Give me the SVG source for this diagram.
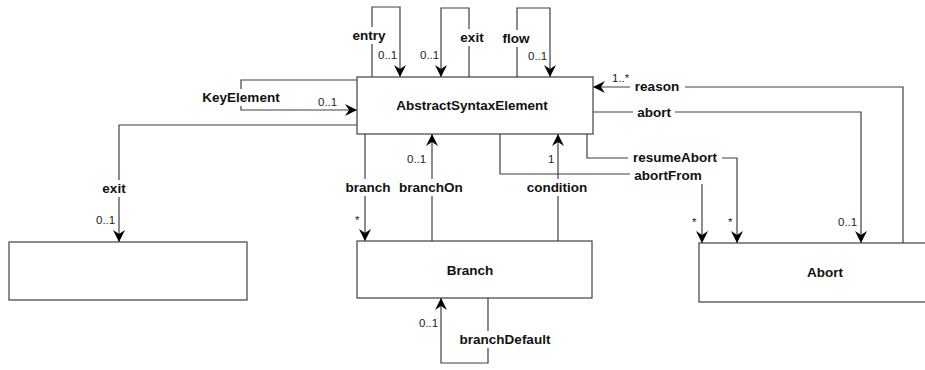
<svg xmlns="http://www.w3.org/2000/svg" width="925" height="370" viewBox="0 0 925 370">
  <defs>
    <marker id="arrow" viewBox="0 0 12 12" refX="12" refY="6" markerWidth="12" markerHeight="12" markerUnits="userSpaceOnUse" orient="auto">
      <path d="M0,0 L12,6 L0,12 L4,6 z" fill="#000"/>
    </marker>
    <style>
      .box { fill: #fff; stroke: #404040; stroke-width: 1.2; }
      .edge { fill: none; stroke: #404040; stroke-width: 1.2; }
      .end { marker-end: url(#arrow); }
      .bg { fill: #fff; stroke: none; }
      .name { font-family: "Liberation Sans", Arial, sans-serif; font-size: 13.5px; font-weight: bold; fill: #111; text-anchor: middle; }
      .role { font-family: "Liberation Sans", Arial, sans-serif; font-size: 13.5px; font-weight: bold; fill: #111; text-anchor: middle; }
      .mult { font-family: "Liberation Sans", Arial, sans-serif; font-size: 11.5px; fill: #222; }
    </style>
  </defs>
  <rect width="925" height="370" fill="#fff"/>

  <!-- associations -->
  <g id="connectors">
    <path class="edge end" d="M372,77 V7 H400 V77"/>
    <path class="edge end" d="M469,77 V8 H441 V77"/>
    <path class="edge end" d="M517,77 V8 H550 V77"/>
    <path class="edge end" d="M357,80 H241 V110 H357"/>
    <path class="edge end" d="M357,125 H119 V242"/>
    <path class="edge end" d="M365,134 V241"/>
    <path class="edge end" d="M432,241 V134"/>
    <path class="edge end" d="M558,241 V134"/>
    <path class="edge end" d="M488,298 V363 H441 V298"/>
    <path class="edge end" d="M500,134 V174 H702 V243"/>
    <path class="edge end" d="M587,134 V158 H737 V243"/>
    <path class="edge end" d="M593,112 H861 V243"/>
    <path class="edge end" d="M903,243 V87 H593"/>

    <!-- role names, set on a white ground over the lines -->
    <rect class="bg" x="350" y="27" width="38" height="17"/>
    <text class="role" x="369" y="40">entry</text>
    <rect class="bg" x="458" y="29" width="29" height="17"/>
    <text class="role" x="472" y="42">exit</text>
    <rect class="bg" x="499" y="30" width="34" height="17"/>
    <text class="role" x="516" y="43">flow</text>
    <rect class="bg" x="199" y="89" width="84" height="17"/>
    <text class="role" x="241" y="102">KeyElement</text>
    <rect class="bg" x="98" y="180" width="32" height="17"/>
    <text class="role" x="114" y="193">exit</text>
    <rect class="bg" x="343" y="179" width="51" height="17"/>
    <text class="role" x="368" y="192">branch</text>
    <rect class="bg" x="396" y="179" width="70" height="17"/>
    <text class="role" x="431" y="192">branchOn</text>
    <rect class="bg" x="524" y="179" width="66" height="17"/>
    <text class="role" x="557" y="192">condition</text>
    <rect class="bg" x="456" y="331" width="99" height="17"/>
    <text class="role" x="505" y="344">branchDefault</text>
    <rect class="bg" x="630" y="167" width="76" height="17"/>
    <text class="role" x="668" y="180">abortFrom</text>
    <rect class="bg" x="628" y="149" width="94" height="17"/>
    <text class="role" x="675" y="162">resumeAbort</text>
    <rect class="bg" x="633" y="104" width="42" height="17"/>
    <text class="role" x="654" y="117">abort</text>
    <rect class="bg" x="630" y="78" width="55" height="17"/>
    <text class="role" x="657" y="91">reason</text>

    <!-- multiplicities -->
    <text class="mult" x="378" y="59">0..1</text>
    <text class="mult" x="420" y="59">0..1</text>
    <text class="mult" x="528" y="60">0..1</text>
    <text class="mult" x="318" y="106">0..1</text>
    <text class="mult" x="96" y="224">0..1</text>
    <text class="mult" x="355" y="224">*</text>
    <text class="mult" x="407" y="163">0..1</text>
    <text class="mult" x="548" y="163">1</text>
    <text class="mult" x="419" y="327">0..1</text>
    <text class="mult" x="692" y="226">*</text>
    <text class="mult" x="728" y="226">*</text>
    <text class="mult" x="838" y="226">0..1</text>
    <text class="mult" x="612" y="82">1..*</text>
  </g>

  <!-- classes -->
  <g id="AbstractSyntaxElement">
    <rect class="box" x="357" y="77" width="236" height="57"/>
    <text class="name" x="472" y="110">AbstractSyntaxElement</text>
  </g>
  <g id="Unnamed">
    <rect class="box" x="9" y="242" width="238" height="58"/>
  </g>
  <g id="Branch">
    <rect class="box" x="357" y="241" width="235" height="57"/>
    <text class="name" x="470" y="275">Branch</text>
  </g>
  <g id="Abort">
    <rect class="box" x="699" y="243" width="253" height="59"/>
    <text class="name" x="825" y="277">Abort</text>
  </g>
</svg>
